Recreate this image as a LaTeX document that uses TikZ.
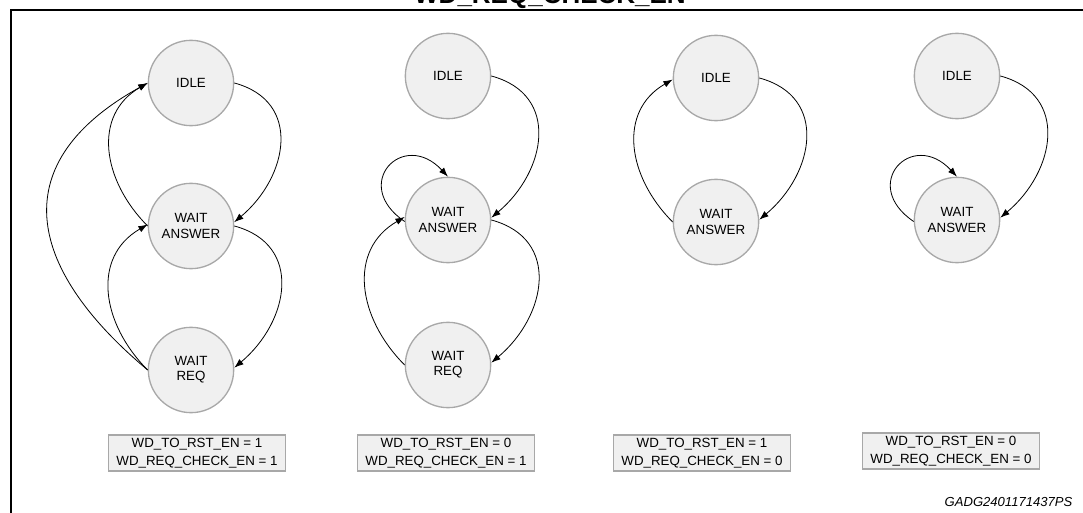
\documentclass[tikz,border=0pt]{standalone}
\usepackage{fontspec}
\setmainfont{Liberation Sans}
\usetikzlibrary{arrows.meta}
\definecolor{stfill}{HTML}{F0F0F0}
\definecolor{stline}{HTML}{A8A8A8}
\tikzset{
	state/.style={circle, draw=stline, fill=stfill, line width=1pt, minimum size=64pt, inner sep=0pt, align=center, font=\fontsize{10}{11.5}\selectfont},
	flagbox/.style={draw=stline, fill=stfill, line width=1pt, minimum width=133pt, minimum height=27pt, inner sep=0pt, align=center, font=\fontsize{10}{13.5}\selectfont},
	trans/.style={-{Latex[length=7pt,width=5pt]}, line width=0.6pt},
	goright/.style={trans, out=-15, in=40, looseness=1.3},
	goleft/.style={trans, out=135, in=210, looseness=1.15},
	selfloop/.style={trans, out=146, in=133, looseness=2.7}
}

\begin{document}
\begin{tikzpicture}[x=0.75pt, y=0.75pt]
			%%%%% START %%%%%
			\useasboundingbox (0, 0) rectangle (1083, -513);
			
			\node[anchor=base, font=\fontsize{19.5}{20}\selectfont\bfseries] (title) at (550, -4) {WD\_REQ\_CHECK\_EN};
			\draw[line width=1.5pt] (11, -513) -- (11, -10) -- (1083, -10);
			
			% both enabled
			\node[state] (idleA) at (191, -83) {IDLE};
			\node[state] (waitA) at (191, -226) {WAIT\\ANSWER};
			\node[state] (reqA) at (191, -370) {WAIT\\REQ};
			\draw[goright] (idleA.east) to (waitA.5);
			\draw[goright] (waitA.east) to (reqA.3);
			\draw[goleft] (waitA.west) to (idleA.west);
			\draw[goleft] (reqA.west) to (waitA.178);
			\draw[trans, out=140, in=209, looseness=1.45] (reqA.west) to (idleA.west);
			\node[flagbox] (boxA) at (197, -453) {WD\_TO\_RST\_EN = 1\\WD\_REQ\_CHECK\_EN = 1};
			
			% check only
			\node[state] (idleB) at (448, -76) {IDLE};
			\node[state] (waitB) at (448, -220) {WAIT\\ANSWER};
			\node[state] (reqB) at (448, -365) {WAIT\\REQ};
			\draw[goright] (idleB.east) to (waitB.3);
			\draw[selfloop] (waitB.182) to (waitB.north);
			\draw[goright] (waitB.east) to (reqB.3);
			\draw[goleft] (reqB.west) to (waitB.176);
			\node[flagbox] (boxB) at (446, -453) {WD\_TO\_RST\_EN = 0\\WD\_REQ\_CHECK\_EN = 1};
			
			% reset only
			\node[state] (idleC) at (716, -78) {IDLE};
			\node[state] (waitC) at (716, -222) {WAIT\\ANSWER};
			\draw[goright] (idleC.east) to (waitC.3);
			\draw[goleft] (waitC.west) to (idleC.182);
			\node[flagbox] (boxC) at (702, -453) {WD\_TO\_RST\_EN = 1\\WD\_REQ\_CHECK\_EN = 0};
			
			% both disabled
			\node[state] (idleD) at (957, -76) {IDLE};
			\node[state] (waitD) at (957, -220) {WAIT\\ANSWER};
			\draw[goright] (idleD.east) to (waitD.3);
			\draw[selfloop] (waitD.182) to (waitD.north);
			\node[flagbox] (boxD) at (951, -451) {WD\_TO\_RST\_EN = 0\\WD\_REQ\_CHECK\_EN = 0};
			
			\node[anchor=base east, font=\fontsize{9.8}{10}\selectfont\itshape] (code) at (1077, -507) {GADG2401171437PS};
			%%%%% END %%%%%
\end{tikzpicture}
\end{document}
